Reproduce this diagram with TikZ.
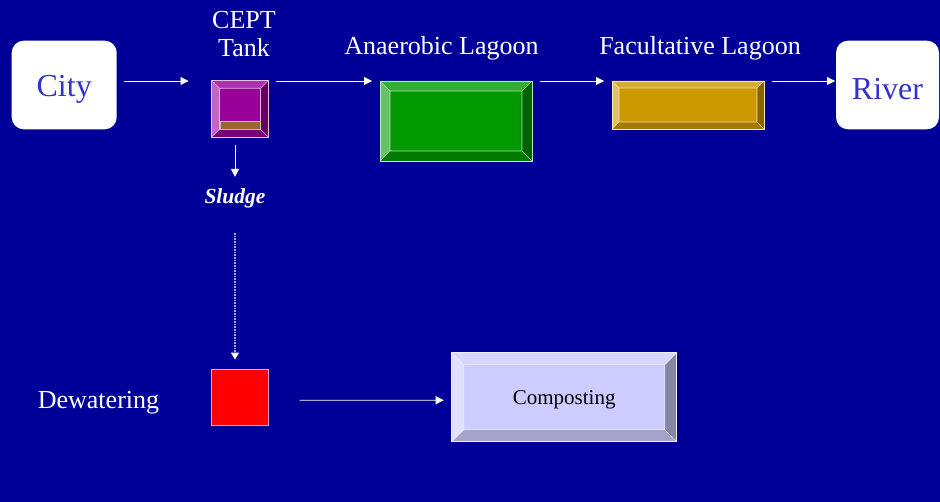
\documentclass[tikz,border=0pt]{standalone}
\usepackage{fontspec}
\setmainfont{Liberation Serif}
\usetikzlibrary{arrows.meta,positioning,calc}

\definecolor{slidebg}{RGB}{0,0,153}
\definecolor{endtext}{RGB}{51,51,204}
\definecolor{tankfill}{RGB}{153,0,153}
\definecolor{sludgebar}{RGB}{153,102,51}
\definecolor{anaerfill}{RGB}{0,153,0}
\definecolor{facultfill}{RGB}{204,153,0}
\definecolor{compostfill}{RGB}{204,204,255}
\definecolor{dewatedge}{RGB}{230,160,220}
\definecolor{dotline}{RGB}{165,165,240}

\tikzset{
  bevel width/.store in=\bevw, bevel width=8pt,
  bevelbox/.style={rectangle, fill=#1, draw=white!75!#1, line width=0.7pt,
    inner sep=0pt, outer sep=0pt,
    path picture={
      \coordinate (bv-sw) at (path picture bounding box.south west);
      \coordinate (bv-ne) at (path picture bounding box.north east);
      \coordinate (bv-isw) at ($(bv-sw)+(\bevw,\bevw)$);
      \coordinate (bv-ine) at ($(bv-ne)-(\bevw,\bevw)$);
      \fill[#1!80!white] (bv-sw|-bv-ne) -- (bv-ne) -- (bv-ine) -- (bv-isw|-bv-ine) -- cycle;
      \fill[#1!60!white] (bv-sw) -- (bv-sw|-bv-ne) -- (bv-isw|-bv-ine) -- (bv-isw) -- cycle;
      \fill[#1!65!black] (bv-ne) -- (bv-ne|-bv-sw) -- (bv-ine|-bv-isw) -- (bv-ine) -- cycle;
      \fill[#1!80!black] (bv-sw) -- (bv-ne|-bv-sw) -- (bv-ine|-bv-isw) -- (bv-isw) -- cycle;
      \draw[white!70!#1, line width=0.6pt] (bv-isw) rectangle (bv-ine)
        (bv-sw) -- (bv-isw) (bv-ne) -- (bv-ine)
        (bv-sw|-bv-ne) -- (bv-isw|-bv-ine) (bv-ne|-bv-sw) -- (bv-ine|-bv-isw);
    }},
  endbox/.style={rectangle, rounded corners=12pt, fill=white, text=endtext,
                 font=\fontsize{32}{38}\selectfont, inner sep=0pt, outer sep=0pt,
                 minimum width=105pt, minimum height=88.6pt,
                 text height=26pt, text depth=3pt},
  lbl/.style={text=white, inner sep=0pt, font=\fontsize{26}{28.5}\selectfont},
  flowarr/.style={-{Triangle[length=8pt,width=8pt]}, draw=white, line width=0.9pt},
  dotarr/.style={-{Triangle[length=7pt,width=8pt,color=white]}, draw=dotline,
                 line width=1.2pt, dash pattern=on 0.9pt off 0.7pt},
}

\begin{document}
\begin{tikzpicture}[x=1pt, y=-1pt]
  \fill[slidebg] (0,0) rectangle (940,502);
  \useasboundingbox (0,0) rectangle (940,502);

  % treatment line
  \node[endbox] (city) at (64.2,85) {City};
  \node[bevelbox=tankfill, bevel width=8pt, minimum size=57pt] (cept) at (240,108.8) {};
  \node[fill=sludgebar, draw=white!55!sludgebar, line width=0.6pt, inner sep=0pt,
        minimum width=40pt, minimum height=7.6pt, above=7.7pt of cept.south] (bar) {};
  \node[bevelbox=anaerfill, bevel width=10pt, minimum width=152pt, minimum height=80pt] (anaer) at (456,121) {};
  \node[bevelbox=facultfill, bevel width=7pt, minimum width=152pt, minimum height=48pt] (facult) at (688,105) {};
  \node[endbox, text height=30pt, text depth=0pt, minimum width=103pt] (river) at (887.5,85) {River};

  \node[lbl, align=center, anchor=base] (ceptlbl) at (244,56.7) {CEPT\\Tank};
  \node[lbl, anchor=base] (anlbl) at (441.5,54.3) {Anaerobic Lagoon};
  \node[lbl, anchor=base] (falbl) at (700,54.3) {Facultative Lagoon};

  % sludge line
  \node[lbl, anchor=base, font=\fontsize{21.5}{24}\selectfont\bfseries\itshape] (sludge) at (235,204) {Sludge};
  \node[fill=red, draw=dewatedge, line width=0.8pt, inner sep=0pt, minimum size=56.6pt] (dewat) at (240,397.3) {};
  \node[lbl, anchor=base] (dewlbl) at (98.5,408.3) {Dewatering};
  \node[bevelbox=compostfill, bevel width=12pt, minimum width=225pt, minimum height=89pt,
        text=black, font=\fontsize{21}{25}\selectfont, text height=17pt, text depth=1.5pt] (compost) at (564.2,397.2) {Composting};

  \draw[flowarr, shorten <=7pt, shorten >=23pt] (city.east |- anaer.north) -- (cept.west |- anaer.north);
  \draw[flowarr, shorten <=7pt, shorten >=8pt] (cept.east |- anaer.north) -- (anaer.north west);
  \draw[flowarr, shorten <=8pt, shorten >=8pt] (anaer.north east) -- (facult.north west);
  \draw[flowarr, shorten <=8pt, shorten >=1pt] (facult.north east) -- (river.west |- facult.north);
  \draw[flowarr, shorten <=8pt, shorten >=12pt] (sludge.north |- cept.south) -- (sludge.north);
  \draw[dotarr, shorten <=24pt, shorten >=9pt] (sludge.south) -- (sludge.south |- dewat.north);
  \draw[flowarr, shorten <=31pt, shorten >=8pt] ([yshift=-3pt]dewat.east) -- ([yshift=-3pt]compost.west);
\end{tikzpicture}
\end{document}
